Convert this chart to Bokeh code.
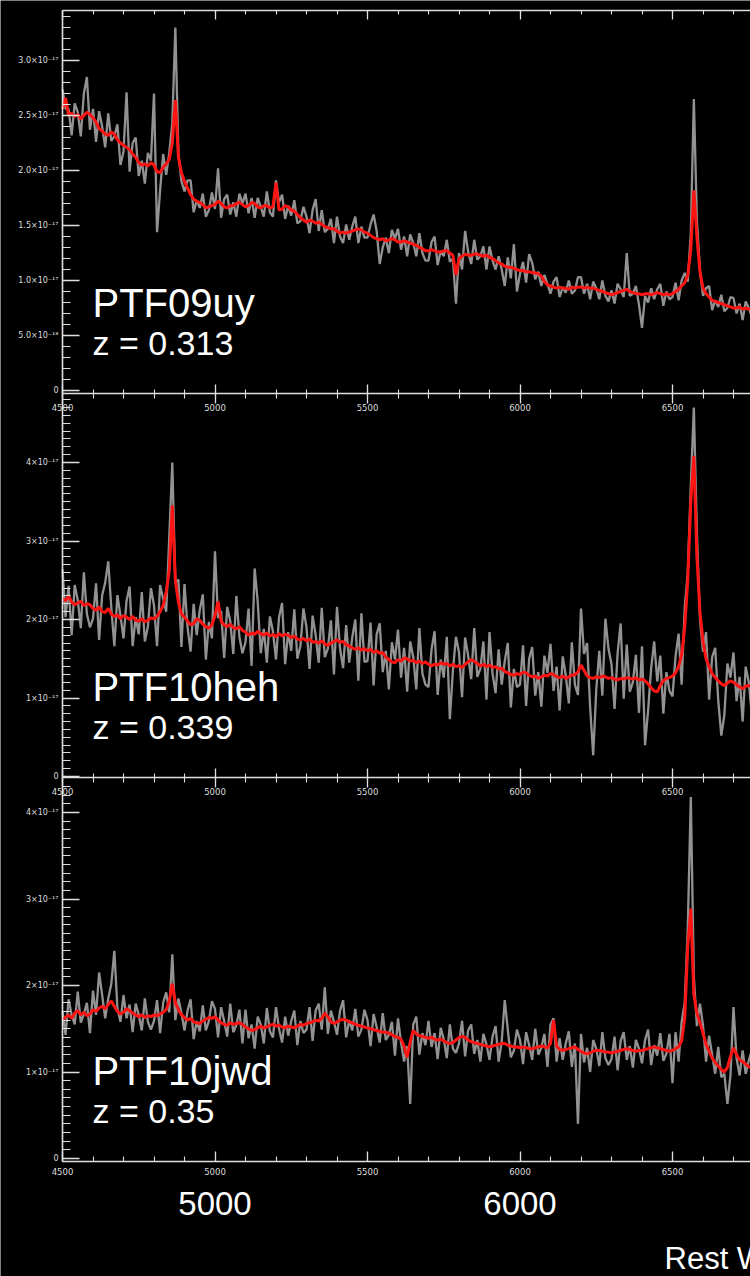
import numpy as np
from bokeh.plotting import figure
from bokeh.models import Range1d, LinearAxis, FixedTicker, Label
from bokeh.embed import file_html
from bokeh.resources import INLINE

# ---------------- data (flux in units of 1e-17 erg/s/cm2/A) ----------------
wavelength = np.arange(4500, 6770, 10)  # rest wavelength grid, 227 samples

objects = ["PTF09uy", "PTF10heh", "PTF10jwd"]
redshifts = ["z = 0.313", "z = 0.339", "z = 0.35"]

ptf09uy_smooth = [
    2.56, 2.66, 2.50, 2.52, 2.49, 2.51, 2.47, 2.50, 2.53, 2.51,
    2.48, 2.44, 2.38, 2.36, 2.33, 2.32, 2.35, 2.33, 2.28, 2.25,
    2.23, 2.21, 2.19, 2.15, 2.12, 2.07, 2.05, 2.06, 2.04, 2.07,
    2.05, 1.99, 1.98, 2.03, 2.06, 2.10, 2.25, 2.64, 2.12, 1.98,
    1.90, 1.84, 1.78, 1.74, 1.72, 1.71, 1.69, 1.66, 1.67, 1.68,
    1.69, 1.72, 1.70, 1.67, 1.66, 1.68, 1.68, 1.70, 1.71, 1.69,
    1.67, 1.68, 1.71, 1.70, 1.67, 1.66, 1.68, 1.68, 1.66, 1.67,
    1.89, 1.64, 1.65, 1.68, 1.67, 1.64, 1.63, 1.60, 1.57, 1.55,
    1.53, 1.55, 1.54, 1.52, 1.53, 1.51, 1.49, 1.48, 1.47, 1.47,
    1.45, 1.43, 1.44, 1.43, 1.44, 1.45, 1.46, 1.47, 1.46, 1.44,
    1.43, 1.41, 1.39, 1.38, 1.37, 1.38, 1.36, 1.37, 1.38, 1.37,
    1.35, 1.35, 1.36, 1.35, 1.34, 1.33, 1.32, 1.30, 1.29, 1.27,
    1.27, 1.28, 1.27, 1.26, 1.26, 1.27, 1.27, 1.25, 1.23, 1.05,
    1.20, 1.22, 1.24, 1.23, 1.23, 1.24, 1.24, 1.23, 1.22, 1.23,
    1.21, 1.20, 1.18, 1.16, 1.15, 1.13, 1.12, 1.12, 1.11, 1.10,
    1.09, 1.09, 1.08, 1.08, 1.07, 1.07, 1.06, 1.04, 0.99, 0.96,
    0.95, 0.94, 0.93, 0.94, 0.93, 0.93, 0.92, 0.94, 0.93, 0.94,
    0.94, 0.93, 0.94, 0.93, 0.93, 0.92, 0.91, 0.90, 0.89, 0.88,
    0.87, 0.88, 0.89, 0.90, 0.91, 0.92, 0.90, 0.89, 0.88, 0.88,
    0.87, 0.88, 0.88, 0.87, 0.88, 0.89, 0.88, 0.87, 0.88, 0.87,
    0.88, 0.90, 0.92, 0.95, 0.98, 1.05, 1.28, 1.82, 1.40, 1.08,
    0.93, 0.88, 0.85, 0.82, 0.81, 0.80, 0.79, 0.78, 0.77, 0.76,
    0.75, 0.75, 0.76, 0.74, 0.75, 0.74, 0.75,
]
ptf09uy_raw = [
    2.74, 2.56, 2.56, 2.32, 2.61, 2.53, 2.31, 2.70, 2.85, 2.37,
    2.56, 2.26, 2.54, 2.40, 2.21, 2.52, 2.27, 2.31, 2.42, 2.05,
    2.17, 2.71, 1.99, 2.25, 2.30, 1.95, 2.09, 1.88, 2.16, 2.09,
    2.70, 1.44, 1.82, 2.15, 1.96, 2.16, 2.43, 3.30, 2.16, 1.90,
    1.81, 1.91, 1.91, 1.62, 1.73, 1.66, 1.79, 1.58, 1.64, 1.80,
    1.65, 2.02, 1.57, 1.74, 1.78, 1.60, 1.71, 1.58, 1.79, 1.70,
    1.79, 1.61, 1.75, 1.57, 1.75, 1.67, 1.58, 1.81, 1.62, 1.58,
    1.91, 1.71, 1.78, 1.56, 1.68, 1.59, 1.73, 1.52, 1.54, 1.67,
    1.58, 1.43, 1.64, 1.74, 1.45, 1.64, 1.44, 1.47, 1.56, 1.34,
    1.58, 1.40, 1.34, 1.51, 1.37, 1.49, 1.58, 1.34, 1.49, 1.39,
    1.39, 1.51, 1.60, 1.45, 1.15, 1.30, 1.39, 1.25, 1.46, 1.38,
    1.47, 1.28, 1.40, 1.22, 1.42, 1.34, 1.22, 1.43, 1.25, 1.18,
    1.18, 1.35, 1.40, 1.14, 1.27, 1.22, 1.37, 1.17, 1.20, 0.79,
    1.25, 1.10, 1.45, 1.26, 1.15, 1.37, 1.19, 1.22, 1.31, 1.10,
    1.31, 1.18, 1.10, 1.22, 1.10, 0.95, 1.21, 1.02, 1.33, 0.90,
    1.06, 1.17, 0.98, 1.24, 1.16, 1.01, 1.08, 0.95, 1.05, 0.97,
    0.88, 0.99, 1.03, 0.85, 0.94, 0.89, 1.00, 0.88, 0.91, 1.03,
    1.03, 0.88, 0.97, 0.83, 0.99, 0.93, 0.83, 1.00, 0.86, 0.81,
    0.91, 0.79, 0.97, 0.92, 0.85, 1.25, 0.86, 0.88, 0.95, 0.78,
    0.57, 0.86, 0.80, 0.93, 0.83, 0.92, 0.97, 0.77, 0.90, 0.83,
    0.85, 0.98, 0.82, 1.00, 1.07, 0.99, 1.43, 2.65, 1.55, 1.09,
    0.86, 0.93, 0.95, 0.73, 0.82, 0.76, 0.87, 0.72, 0.75, 0.85,
    0.84, 0.70, 0.79, 0.64, 0.81, 0.75, 0.67,
]

ptf10heh_smooth = [
    2.26, 2.24, 2.30, 2.22, 2.19, 2.21, 2.23, 2.18, 2.20, 2.19,
    2.14, 2.12, 2.16, 2.10, 2.09, 2.14, 2.07, 2.04, 2.06, 2.01,
    2.05, 2.03, 2.00, 2.04, 1.99, 1.98, 2.01, 1.97, 1.99, 2.02,
    2.01, 2.04, 2.10, 2.18, 2.35, 2.62, 3.45, 2.50, 2.22, 2.07,
    2.03, 1.98, 1.93, 1.95, 2.01, 1.99, 1.94, 1.91, 1.89, 1.93,
    2.05, 2.23, 1.98, 1.93, 1.91, 1.94, 1.90, 1.88, 1.91, 1.86,
    1.84, 1.80, 1.83, 1.81, 1.85, 1.82, 1.80, 1.83, 1.79, 1.81,
    1.78, 1.82, 1.79, 1.81, 1.80, 1.77, 1.79, 1.75, 1.74, 1.76,
    1.73, 1.75, 1.71, 1.72, 1.70, 1.73, 1.69, 1.67, 1.70, 1.72,
    1.74, 1.71, 1.72, 1.68, 1.66, 1.64, 1.62, 1.64, 1.61, 1.63,
    1.60, 1.62, 1.58, 1.60, 1.57, 1.58, 1.52, 1.49, 1.46, 1.45,
    1.49, 1.47, 1.51, 1.50, 1.47, 1.48, 1.45, 1.47, 1.44, 1.46,
    1.43, 1.41, 1.43, 1.42, 1.45, 1.43, 1.44, 1.41, 1.43, 1.40,
    1.41, 1.39, 1.43, 1.46, 1.49, 1.47, 1.44, 1.41, 1.43, 1.40,
    1.42, 1.39, 1.40, 1.37, 1.38, 1.34, 1.32, 1.30, 1.29, 1.31,
    1.30, 1.33, 1.32, 1.29, 1.27, 1.28, 1.25, 1.27, 1.29, 1.28,
    1.31, 1.30, 1.27, 1.26, 1.28, 1.25, 1.27, 1.29, 1.30, 1.33,
    1.42, 1.35, 1.28, 1.26, 1.25, 1.27, 1.26, 1.28, 1.27, 1.25,
    1.26, 1.24, 1.23, 1.25, 1.24, 1.26, 1.25, 1.24, 1.26, 1.23,
    1.24, 1.22, 1.18, 1.13, 1.09, 1.08, 1.16, 1.22, 1.25, 1.26,
    1.28, 1.32, 1.40, 1.55, 1.90, 2.50, 3.50, 4.08, 2.80, 2.10,
    1.72, 1.50, 1.40, 1.31, 1.26, 1.22, 1.18, 1.16, 1.19, 1.22,
    1.20, 1.17, 1.14, 1.12, 1.15, 1.16, 1.14,
]
ptf10heh_raw = [
    2.64, 2.03, 2.43, 1.80, 2.44, 2.25, 1.89, 2.60, 2.07, 1.90,
    2.01, 2.46, 1.74, 2.31, 2.47, 2.74, 2.15, 1.66, 2.31, 2.05,
    1.76, 2.24, 2.42, 1.66, 2.03, 1.81, 2.35, 1.72, 1.91, 2.40,
    2.18, 1.66, 2.44, 2.26, 2.10, 3.04, 4.00, 2.46, 2.51, 1.65,
    2.45, 1.90, 1.59, 2.20, 1.80, 2.12, 2.32, 1.49, 1.97, 1.76,
    2.87, 2.02, 2.11, 1.51, 2.16, 1.98, 1.56, 2.30, 1.78, 1.57,
    1.71, 2.14, 1.41, 2.65, 2.23, 1.57, 1.88, 1.45, 2.04, 1.85,
    1.49, 2.03, 2.21, 1.43, 1.84, 1.60, 2.13, 1.50, 1.66, 2.14,
    1.90, 1.37, 2.05, 1.80, 1.45, 2.15, 1.52, 1.63, 1.99, 1.30,
    2.16, 1.63, 1.38, 1.93, 1.45, 1.77, 2.00, 1.22, 2.08, 1.46,
    1.47, 1.96, 1.16, 1.81, 1.95, 1.33, 1.60, 1.11, 1.71, 1.49,
    1.87, 1.26, 1.64, 1.08, 1.72, 1.52, 1.11, 1.89, 1.31, 1.17,
    1.14, 1.62, 1.85, 1.04, 1.49, 1.26, 1.78, 0.73, 1.35, 1.78,
    1.58, 1.01, 1.77, 1.54, 1.24, 1.89, 1.27, 1.37, 1.72, 0.98,
    1.84, 1.31, 1.06, 1.62, 1.17, 1.47, 1.70, 0.88, 1.37, 1.14,
    1.17, 1.67, 0.90, 1.50, 1.65, 1.03, 1.33, 0.89, 1.54, 1.32,
    1.69, 1.09, 1.40, 0.84, 1.53, 1.29, 0.93, 1.71, 1.17, 1.04,
    2.14, 1.56, 1.70, 0.88, 0.27, 1.10, 1.60, 1.03, 2.01, 1.63,
    1.43, 0.86, 1.57, 1.95, 0.99, 1.68, 1.08, 1.20, 1.55, 0.81,
    1.66, 0.40, 0.84, 1.38, 1.72, 1.21, 1.54, 0.80, 1.33, 1.09,
    1.02, 1.53, 1.82, 1.17, 2.15, 2.60, 3.70, 4.70, 3.10, 2.00,
    1.59, 1.84, 0.98, 1.52, 1.64, 0.97, 0.52, 0.78, 1.44, 1.26,
    1.58, 0.96, 1.27, 0.70, 1.40, 1.20, 0.80,
]

ptf10jwd_smooth = [
    1.61, 1.63, 1.66, 1.62, 1.68, 1.71, 1.66, 1.69, 1.65, 1.67,
    1.72, 1.70, 1.74, 1.76, 1.73, 1.78, 1.82, 1.76, 1.70, 1.67,
    1.69, 1.73, 1.71, 1.68, 1.66, 1.64, 1.66, 1.63, 1.65, 1.64,
    1.66, 1.65, 1.67, 1.69, 1.72, 1.82, 2.02, 1.80, 1.72, 1.66,
    1.63, 1.60, 1.62, 1.58, 1.57, 1.56, 1.59, 1.61, 1.63, 1.62,
    1.64, 1.60, 1.57, 1.55, 1.54, 1.57, 1.55, 1.56, 1.57, 1.55,
    1.52, 1.50, 1.48, 1.49, 1.51, 1.53, 1.51, 1.52, 1.54, 1.55,
    1.53, 1.54, 1.52, 1.51, 1.53, 1.52, 1.51, 1.53, 1.55, 1.54,
    1.56, 1.57, 1.58, 1.60, 1.59, 1.62, 1.68, 1.64, 1.58, 1.56,
    1.58, 1.60, 1.61, 1.60, 1.58, 1.57, 1.55, 1.54, 1.53, 1.52,
    1.51, 1.50, 1.49, 1.48, 1.47, 1.46, 1.46, 1.45, 1.43, 1.41,
    1.40, 1.38, 1.30, 1.17, 1.35, 1.48, 1.44, 1.42, 1.41, 1.40,
    1.39, 1.40, 1.38, 1.37, 1.38, 1.36, 1.34, 1.33, 1.34, 1.37,
    1.40, 1.41, 1.40, 1.37, 1.35, 1.34, 1.33, 1.32, 1.31, 1.30,
    1.29, 1.30, 1.31, 1.32, 1.33, 1.33, 1.31, 1.30, 1.29, 1.29,
    1.28, 1.29, 1.28, 1.27, 1.27, 1.28, 1.29, 1.30, 1.29, 1.28,
    1.33, 1.60, 1.30, 1.26, 1.25, 1.26, 1.27, 1.28, 1.29, 1.26,
    1.24, 1.22, 1.21, 1.22, 1.24, 1.25, 1.25, 1.24, 1.23, 1.23,
    1.22, 1.23, 1.24, 1.25, 1.26, 1.27, 1.26, 1.25, 1.24, 1.25,
    1.25, 1.26, 1.27, 1.28, 1.29, 1.28, 1.27, 1.26, 1.25, 1.24,
    1.25, 1.27, 1.29, 1.36, 1.62, 2.45, 2.89, 1.90, 1.68, 1.57,
    1.45, 1.32, 1.24, 1.16, 1.11, 1.07, 1.03, 1.00, 1.05, 1.18,
    1.28, 1.20, 1.14, 1.12, 1.09, 1.06, 1.05,
]
ptf10jwd_raw = [
    1.70, 1.43, 1.84, 1.66, 1.55, 1.93, 1.57, 1.67, 1.80, 1.45,
    1.94, 1.66, 2.15, 1.89, 1.62, 1.85, 2.02, 2.40, 1.74, 1.58,
    1.89, 1.62, 1.78, 1.46, 1.79, 1.66, 1.48, 1.85, 1.58, 1.49,
    1.59, 1.83, 1.45, 1.80, 1.92, 1.69, 2.36, 1.60, 1.85, 1.68,
    1.48, 1.71, 1.84, 1.38, 1.59, 1.47, 1.77, 1.48, 1.59, 1.82,
    1.73, 1.40, 1.75, 1.59, 1.41, 1.79, 1.46, 1.54, 1.72, 1.33,
    1.72, 1.39, 1.55, 1.27, 1.64, 1.55, 1.33, 1.74, 1.47, 1.40,
    1.75, 1.50, 1.34, 1.64, 1.42, 1.59, 1.71, 1.31, 1.59, 1.45,
    1.49, 1.75, 1.36, 1.71, 1.79, 1.49, 1.98, 1.44, 1.71, 1.58,
    1.43, 1.71, 1.83, 1.40, 1.60, 1.48, 1.73, 1.41, 1.49, 1.72,
    1.60, 1.30, 1.67, 1.52, 1.34, 1.68, 1.37, 1.43, 1.58, 1.19,
    1.62, 1.34, 1.12, 1.30, 0.63, 1.55, 1.64, 1.20, 1.45, 1.31,
    1.59, 1.29, 1.45, 1.15, 1.51, 1.38, 1.16, 1.55, 1.27, 1.22,
    1.33, 1.59, 1.18, 1.48, 1.55, 1.21, 1.37, 1.12, 1.44, 1.32,
    1.14, 1.41, 1.53, 1.12, 1.35, 1.83, 1.49, 1.17, 1.25, 1.49,
    1.37, 1.09, 1.46, 1.31, 1.14, 1.50, 1.20, 1.28, 1.44, 1.06,
    1.55, 1.62, 1.12, 1.39, 1.14, 1.33, 1.47, 1.06, 1.33, 0.40,
    1.44, 1.11, 1.28, 1.00, 1.37, 1.27, 1.07, 1.46, 1.16, 1.08,
    1.15, 1.41, 1.02, 1.36, 1.46, 1.14, 1.30, 1.05, 1.37, 1.27,
    1.10, 1.37, 1.49, 1.08, 1.31, 1.19, 1.45, 1.13, 1.21, 1.44,
    0.87, 1.46, 1.12, 1.58, 1.80, 2.65, 4.18, 2.10, 1.53, 1.79,
    1.54, 1.12, 1.42, 1.20, 0.98, 1.29, 0.94, 0.98, 0.63, 0.96,
    1.75, 1.16, 0.96, 1.25, 0.98, 1.13, 1.25,
]

for arr in (ptf09uy_smooth, ptf09uy_raw, ptf10heh_smooth, ptf10heh_raw,
            ptf10jwd_smooth, ptf10jwd_raw):
    assert len(arr) == len(wavelength), len(arr)

# tick values / labels
x_major_ticks = [4500, 5000, 5500, 6000, 6500]
x_minor_ticks = list(range(4500, 6800, 100))
big_x_ticks = [5000, 6000]
p1_ticks = [0, 0.5, 1.0, 1.5, 2.0, 2.5, 3.0]
p1_labels = ["0", "5.0×10⁻¹⁸", "1.0×10⁻¹⁷", "1.5×10⁻¹⁷", "2.0×10⁻¹⁷",
             "2.5×10⁻¹⁷", "3.0×10⁻¹⁷"]
p23_ticks = [0, 1, 2, 3, 4]
p23_labels = ["0", "1×10⁻¹⁷", "2×10⁻¹⁷", "3×10⁻¹⁷", "4×10⁻¹⁷"]

# ---------------- layout geometry (page pixels) ----------------
W, H = 750, 1276
X0_PX, PX_PER_A = 62, 0.305          # 4500 A sits at x=62 px
PANEL_ZERO = {"p1": 390, "p2": 776, "p3": 1158}
PANEL_SCALE = {"p1": 110.0, "p2": 78.5, "p3": 86.5}   # px per 1e-17
PANEL_TOP = {"p1": 10, "p2": 393, "p3": 777}
PANEL_BOT = {"p1": 393, "p2": 777, "p3": 1161}


def v_at(name, px):
    return (PANEL_ZERO[name] - px) / PANEL_SCALE[name]


def wl_at(px):
    return 4500 + (px - X0_PX) / PX_PER_A


X_END = wl_at(W)
ranges = {n: Range1d(v_at(n, H), v_at(n, 0)) for n in PANEL_ZERO}

BG = "#000000"
AX = "#e0e0e0"
LAB = "#dedede"
GRAY = "#929292"
RED = "#ff1414"

p = figure(width=W, height=H, x_range=Range1d(wl_at(0), X_END),
           y_range=ranges["p3"], output_backend="svg", toolbar_location=None,
           x_axis_location=None, y_axis_location=None,
           min_border=0, min_border_left=0, min_border_right=0,
           min_border_top=0, min_border_bottom=0,
           background_fill_color=BG, border_fill_color=BG,
           outline_line_color=None)
p.extra_y_ranges = {"p1": ranges["p1"], "p2": ranges["p2"]}
p.xgrid.visible = False
p.ygrid.visible = False


def style(ax, mi, mo, ni, no, size, standoff, labels=True):
    ax.axis_line_color = AX
    ax.axis_line_width = 1.6
    ax.major_tick_line_color = AX
    ax.minor_tick_line_color = AX
    ax.major_tick_line_width = 1.3
    ax.minor_tick_line_width = 1.1
    ax.major_tick_in, ax.major_tick_out = mi, mo
    ax.minor_tick_in, ax.minor_tick_out = ni, no
    ax.major_label_text_font = "DejaVu Sans"
    ax.major_label_text_font_size = f"{size}px"
    ax.major_label_standoff = standoff
    ax.major_label_text_color = LAB if labels else None


# spectra
series = {"p1": (ptf09uy_raw, ptf09uy_smooth),
          "p2": (ptf10heh_raw, ptf10heh_smooth),
          "p3": (ptf10jwd_raw, ptf10jwd_smooth)}
for name, (raw, smooth) in series.items():
    kw = {} if name == "p3" else {"y_range_name": name}
    p.line(wavelength, raw, line_color=GRAY, line_width=2.3, **kw)
    p.line(wavelength, smooth, line_color=RED, line_width=3.0, **kw)

# y axes (one per panel, pinned at 4500 A)
for name in ("p1", "p2", "p3"):
    if name == "p1":
        ticks, labels, top = p1_ticks, p1_labels, 3.4
    else:
        ticks, labels = p23_ticks, p23_labels
        top = 4.8 if name == "p2" else 4.4
    minors = [round(0.1 * i, 2) for i in range(0, int(round(top * 10)) + 1)]
    ya = LinearAxis(ticker=FixedTicker(ticks=ticks, minor_ticks=minors),
                    fixed_location=4500,
                    bounds=(v_at(name, PANEL_BOT[name]), v_at(name, PANEL_TOP[name])),
                    major_label_overrides={t: l for t, l in zip(ticks, labels)})
    if name != "p3":
        ya.y_range_name = name
    style(ya, 17, 0, 8, 0, 8, 4)
    p.add_layout(ya, "left")

xt = FixedTicker(ticks=x_major_ticks, minor_ticks=x_minor_ticks)
XB = (4500, X_END)

# top border of panel 1
top_ax = LinearAxis(ticker=xt, y_range_name="p1", bounds=XB,
                    fixed_location=v_at("p1", PANEL_TOP["p1"]))
style(top_ax, 9, 0, 4, 0, 7, 0, labels=False)
p.add_layout(top_ax, "above")

# shared boundaries between panels
for name in ("p1", "p2"):
    bx = LinearAxis(ticker=xt, y_range_name=name, bounds=XB,
                    fixed_location=v_at(name, PANEL_BOT[name]))
    style(bx, 9, 10, 4, 5, 8.5, 0)
    p.add_layout(bx, "below")

# bottom axis of panel 3
bottom = LinearAxis(ticker=xt, bounds=XB, fixed_location=v_at("p3", PANEL_BOT["p3"]))
style(bottom, 10, 0, 5, 0, 8.5, 6)
p.add_layout(bottom, "below")

# large overlay wavelength labels
big = LinearAxis(ticker=FixedTicker(ticks=big_x_ticks), fixed_location=v_at("p3", 1181))
big.axis_line_color = None
big.major_tick_line_color = None
big.minor_tick_line_color = None
big.major_label_text_font = "Liberation Sans"
big.major_label_text_font_size = "33px"
big.major_label_text_color = "#ffffff"
big.major_label_standoff = 4
p.add_layout(big, "below")

# object labels
for name, obj, zlab in zip(("p1", "p2", "p3"), objects, redshifts):
    kw = {} if name == "p3" else {"y_range_name": name}
    p.add_layout(Label(x=wl_at(92), y=v_at(name, PANEL_BOT[name] - 91), text=obj,
                       text_font="Liberation Sans", text_font_size="40px",
                       text_color="#ffffff", text_baseline="alphabetic", **kw))
    p.add_layout(Label(x=wl_at(92), y=v_at(name, PANEL_BOT[name] - 51), text=zlab,
                       text_font="Liberation Sans", text_font_size="34px",
                       text_color="#ffffff", text_baseline="alphabetic", **kw))

p.add_layout(Label(x=wl_at(664), y=v_at("p3", 1258),
                   text="Rest Wavelength (Å)", text_font="Liberation Sans",
                   text_font_size="31px", text_color="#ffffff",
                   text_baseline="alphabetic"))

html = file_html(p, INLINE, title="PTF spectra")
html = html.replace("<body>", '<body style="background-color:#000000;overflow:hidden;">', 1)
open("out.html", "w").write(html)
